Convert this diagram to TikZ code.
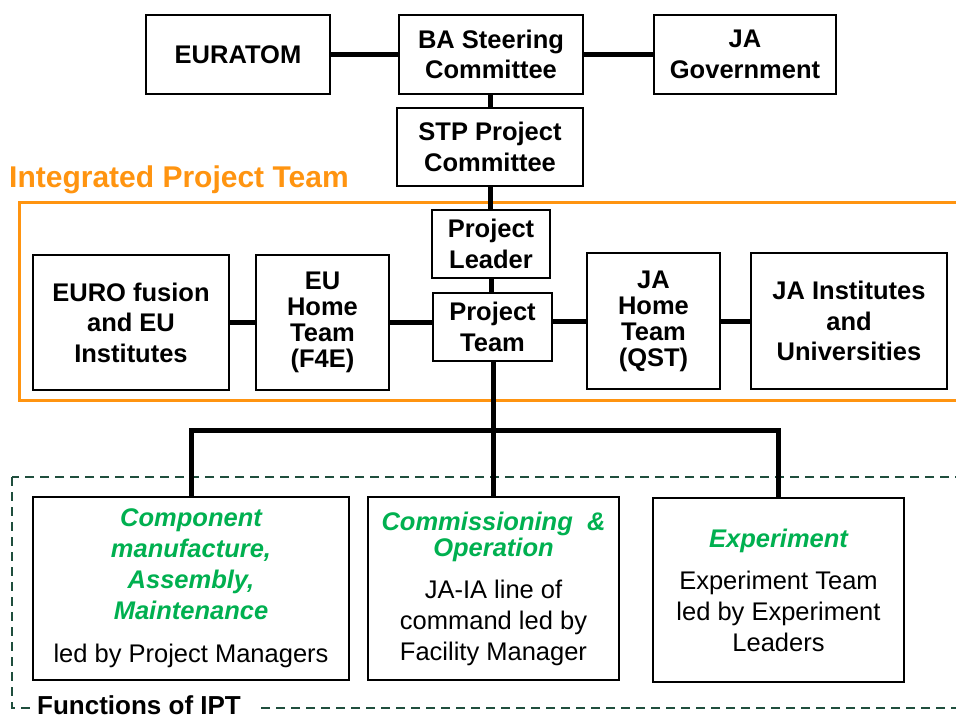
\documentclass[tikz,border=0pt]{standalone}
\usepackage{fontspec}
\setmainfont{Liberation Sans}
\definecolor{iptorange}{HTML}{FF9410}
\definecolor{fungreen}{HTML}{00B050}
\definecolor{dashgreen}{HTML}{1F4E3D}
\tikzset{
  box/.style={draw=black, line width=2pt, inner sep=0pt, align=center, fill=white,
     font=\fontsize{25.5}{30.5}\selectfont\bfseries},
  tightbox/.style={box, font=\fontsize{25.5}{26}\selectfont\bfseries},
  fbox/.style={draw=black, line width=2pt, inner sep=0pt, align=center, fill=white,
     font=\fontsize{25.5}{31}\selectfont},
  link/.style={line width=5pt},
}
\newcommand{\gtitle}[1]{{\color{fungreen}\bfseries\itshape #1}}
\begin{document}
\begin{tikzpicture}[x=1pt,y=-1pt]
\useasboundingbox (0,0) rectangle (956,718);
% group frames
\draw[iptorange, line width=3pt] (19,202) rectangle (962,400);
\node[anchor=west, text=iptorange, inner sep=0pt, font=\fontsize{30}{34}\selectfont\bfseries] (iptlabel) at (9,180) {Integrated Project Team};
\draw[dashgreen, line width=2pt, dash pattern=on 9pt off 6pt] (12,477) rectangle (962,708);
\node[anchor=base west, fill=white, inner xsep=3pt, inner ysep=0pt, font=\fontsize{26}{28}\selectfont\bfseries] (funlabel) at (34,714) {Functions of IPT\hspace*{12pt}};
% top nodes
\node[box, minimum width=184pt, minimum height=79pt] (eur) at (238,54.5) {EURATOM};
\node[box, minimum width=184pt, minimum height=79pt] (ba) at (491,54.5) {BA Steering\\Committee};
\node[box, minimum width=182pt, minimum height=79pt] (jag) at (745,54.5) {JA\\Government};
\node[box, minimum width=186pt, minimum height=78pt] (stp) at (490,147) {STP Project\\Committee};
\node[box, minimum width=118pt, minimum height=68pt] (pl) at (491,244) {Project\\Leader};
\node[box, minimum width=119pt, minimum height=68pt] (pt) at (492.5,327) {Project\\Team};
\node[box, minimum width=196pt, minimum height=135pt] (euf) at (131,322.5) {EURO fusion\\and EU\\Institutes};
\node[tightbox, minimum width=133pt, minimum height=135pt] (euht) at (322.5,322.5) {EU\\Home\\Team\\(F4E)};
\node[tightbox, minimum width=133pt, minimum height=136pt] (jaht) at (653.5,321) {JA\\Home\\Team\\(QST)};
\node[box, minimum width=196pt, minimum height=136pt] (jai) at (849,321) {JA Institutes\\and\\Universities};
% function boxes
\node[fbox, minimum width=316pt, minimum height=183pt] (comp) at (191,588.5)
  {\gtitle{Component}\\\gtitle{manufacture,}\\\gtitle{Assembly,}\\\gtitle{Maintenance}\\[12pt]led by Project Managers};
\node[fbox, minimum width=251pt, minimum height=183pt] (comm) at (493.5,588.5)
  {\gtitle{Commissioning~~\&}\\[-5pt]\gtitle{Operation}\\[11pt]JA-IA line of\\command led by\\Facility Manager};
\node[fbox, minimum width=251pt, minimum height=184pt] (exp) at (778.5,590)
  {\gtitle{Experiment}\\[11pt]Experiment Team\\led by Experiment\\Leaders};
% connectors
\draw[link] (eur.east) -- (ba.west);
\draw[link] (ba.east) -- (jag.west);
\draw[link] (stp.north) -- (stp.north |- ba.south);
\draw[link] (stp.south) -- (stp.south |- pl.north);
\draw[link] (pl.south) -- (pl.south |- pt.north);
\draw[link] (euf.east) -- (euht.west);
\draw[link] (euht.east) -- (euht.east -| pt.west);
\draw[link] (jaht.west -| pt.east) -- (jaht.west);
\draw[link] (jaht.east) -- (jai.west);
\coordinate (bus) at (493,430);
\draw[link] (pt.south -| bus) -- (comm.north -| bus);
\draw[link] (comp.north) -- (comp.north |- bus) -- (exp.north |- bus) -- (exp.north);
\end{tikzpicture}
\end{document}
